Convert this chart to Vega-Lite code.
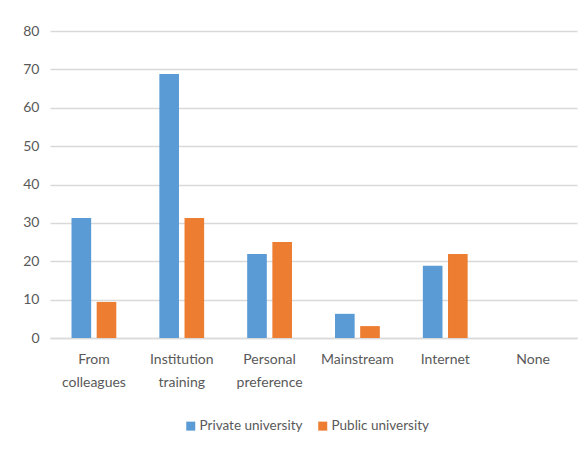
{
  "$schema": "https://vega.github.io/schema/vega-lite/v6.json",
  "width": 527,
  "height": 307,
  "autosize": {"type": "none"},
  "padding": {"left": 50, "top": 31, "right": 5, "bottom": 114},
  "background": "white",
  "data": {
    "values": [
      {"source": "From colleagues", "group": "Private university", "value": 31.3},
      {"source": "From colleagues", "group": "Public university", "value": 9.4},
      {"source": "Institution training", "group": "Private university", "value": 68.8},
      {"source": "Institution training", "group": "Public university", "value": 31.3},
      {"source": "Personal preference", "group": "Private university", "value": 21.9},
      {"source": "Personal preference", "group": "Public university", "value": 25.0},
      {"source": "Mainstream", "group": "Private university", "value": 6.3},
      {"source": "Mainstream", "group": "Public university", "value": 3.1},
      {"source": "Internet", "group": "Private university", "value": 18.8},
      {"source": "Internet", "group": "Public university", "value": 21.9},
      {"source": "None", "group": "Private university", "value": 0},
      {"source": "None", "group": "Public university", "value": 0}
    ]
  },
  "mark": {"type": "bar"},
  "encoding": {
    "x": {
      "field": "source",
      "type": "nominal",
      "sort": null,
      "title": null,
      "scale": {"paddingInner": 0.49, "paddingOuter": 0.245},
      "axis": {
        "labelAngle": 0,
        "labelExpr": "datum.value == 'From colleagues' ? ['From', 'colleagues'] : datum.value == 'Institution training' ? ['Institution', 'training'] : datum.value == 'Personal preference' ? ['Personal', 'preference'] : datum.value",
        "labelLineHeight": 23,
        "labelPadding": 14,
        "ticks": false,
        "domainColor": "#d9d9d9",
        "domainWidth": 1.3
      }
    },
    "xOffset": {
      "field": "group",
      "type": "nominal",
      "scale": {"paddingInner": 0.22, "paddingOuter": 0}
    },
    "y": {
      "field": "value",
      "type": "quantitative",
      "title": null,
      "scale": {"domain": [0, 80], "nice": false},
      "axis": {
        "values": [0, 10, 20, 30, 40, 50, 60, 70, 80],
        "labelOverlap": false,
        "domain": false,
        "ticks": false,
        "labelPadding": 11,
        "gridColor": "#d9d9d9",
        "gridWidth": 1.3
      }
    },
    "color": {
      "field": "group",
      "type": "nominal",
      "title": null,
      "scale": {
        "domain": ["Private university", "Public university"],
        "range": ["#5b9bd5", "#ed7d31"]
      },
      "legend": {
        "orient": "none",
        "legendX": 134,
        "legendY": 388,
        "direction": "horizontal",
        "symbolType": "square",
        "symbolSize": 81,
        "symbolStrokeWidth": 0,
        "labelOffset": 2,
        "columnPadding": 13,
        "padding": 0
      }
    }
  },
  "config": {
    "font": "Lato",
    "view": {"stroke": null},
    "axis": {
      "labelFont": "Lato",
      "labelFontSize": 14,
      "labelColor": "#595959"
    },
    "legend": {
      "labelFont": "Lato",
      "labelFontSize": 13.5,
      "labelColor": "#595959"
    }
  }
}
